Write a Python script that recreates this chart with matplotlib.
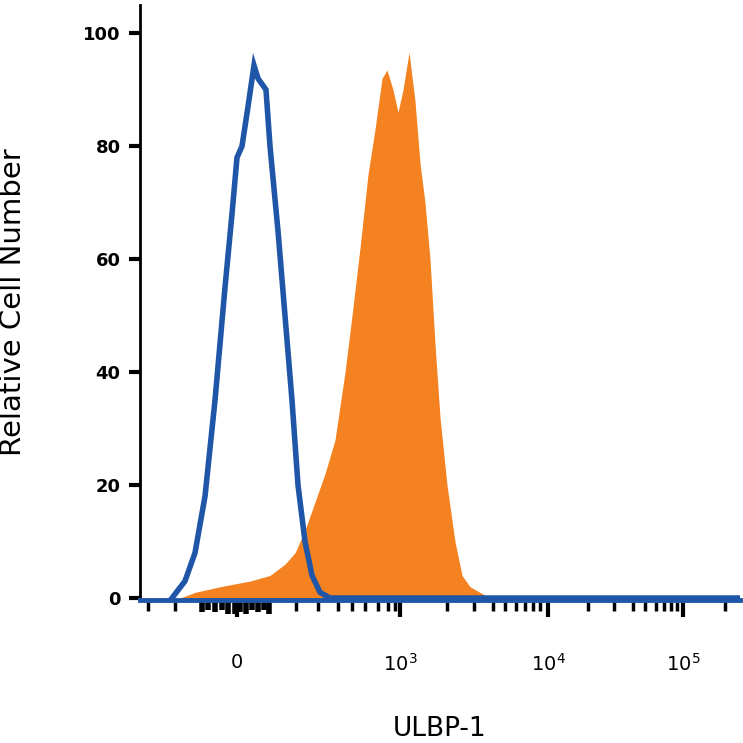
import matplotlib
matplotlib.use("Agg")
import matplotlib.pyplot as plt
import matplotlib.transforms as mt

# x in display channel units (0..600), y in % of max
blue_x = [32, 45, 55, 65, 75, 85, 92, 97, 102, 108, 114, 118, 122, 126, 130, 138, 145, 152, 158, 165, 172, 180, 190, 200, 600]
blue_y = [0, 3, 8, 18, 35, 55, 68, 78, 80, 87, 94.3, 92, 91, 90, 80, 65, 50, 35, 20, 10, 4, 1, 0, 0, 0]
orange_x = [40, 55, 80, 110, 130, 145, 155, 165, 175, 185, 195, 205, 212, 220, 228, 235, 242, 247, 253, 258, 263, 269, 275, 280, 285, 290, 295, 300, 307, 315, 322, 330, 340, 350]
orange_y = [0, 1, 2, 3, 4, 6, 8, 12, 17, 22, 28, 40, 50, 62, 75, 83, 92, 93.5, 90, 86, 90, 96.6, 88, 77, 70, 60, 45, 32, 20, 10, 4, 2, 1, 0]
major_ticks = [97, 260, 408, 543]
major_labels = ["0", "$10^3$", "$10^4$", "$10^5$"]
minor_ticks = [8, 35, 156, 178, 198, 212, 225, 238, 248, 255, 307, 334, 353, 365, 376, 385, 393, 400, 448, 474, 493, 505, 516, 524, 531, 537, 585]
zero_cluster = [62, 68, 75, 82, 88, 95, 100, 106, 112, 118, 124, 129]
zero_len = [10, 8, 10, 8, 12, 12, 10, 12, 8, 10, 8, 12]
y_ticks = [0, 20, 40, 60, 80, 100]

fig = plt.figure(figsize=(7.43, 7.43), dpi=100)
ax = fig.add_axes([140/743, 1-600/743, 600/743, 595/743])
ax.set_xlim(0, 600)
ax.set_ylim(-0.35, 105)
ax.fill_between(orange_x, orange_y, -0.35, color="#f58220", lw=0)
ax.plot(blue_x, blue_y, color="#1f56a8", lw=4, solid_joinstyle="miter")
for s in ["top", "right"]:
    ax.spines[s].set_visible(False)
ax.spines["left"].set_linewidth(2)
ax.spines["bottom"].set_linewidth(3.5)
ax.spines["bottom"].set_color("#1f56a8")
ax.set_yticks(y_ticks)
ax.set_yticklabels([str(v) for v in y_ticks], fontsize=13, fontweight="bold")
ax.tick_params(axis="y", length=8, width=3, pad=6)
ax.set_xticks(major_ticks)
ax.set_xticklabels(major_labels, fontsize=14)
ax.tick_params(axis="x", length=12, width=3, pad=26)
tr = mt.blended_transform_factory(ax.transData, ax.transAxes)
ax.vlines(minor_ticks, -0.018, -0.003, transform=tr, color="black", lw=2.5, clip_on=False)
ax.vlines(zero_cluster, [-0.003 - l/595 for l in zero_len], -0.003, transform=tr, color="black", lw=4, clip_on=False)
ax.set_ylabel("Relative Cell Number", fontsize=21, labelpad=40)
ax.set_xlabel("ULBP-1", fontsize=19, labelpad=30)
fig.savefig("out.png", dpi=100)
